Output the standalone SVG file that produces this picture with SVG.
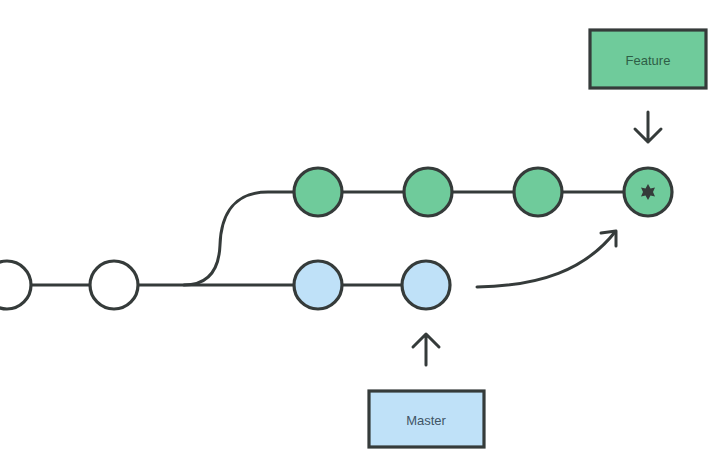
<svg xmlns="http://www.w3.org/2000/svg" width="713" height="453" viewBox="0 0 713 453">
<defs>
<style>
.ln{fill:none;stroke:#353b3a;stroke-width:3;stroke-linecap:round;stroke-linejoin:round}
.c{stroke:#353b3a;stroke-width:3.2}
.w{fill:#ffffff}
.g{fill:#6fcb9b}
.b{fill:#bfe1f8}
.lbl{font-family:"Liberation Sans",Arial,sans-serif;font-size:13px;text-anchor:middle}
</style>
</defs>
<rect width="713" height="453" fill="#ffffff"/>
<g id="connectors">
<path class="ln" d="M7,285 H426"/>
<path class="ln" d="M184,285 C208,285 219,270 220,245 C221,212 236,192 268,192 H648"/>
<path class="ln" d="M477,287 C540,286 585,270 615,232"/>
<path class="ln" d="M601,233 L616,231 L616,246"/>
<path class="ln" d="M648,112 V142 M635,129 L648,142 L661,129"/>
<path class="ln" d="M426,365 V334 M413,347 L426,334 L439,347"/>
</g>
<g id="c1"><circle class="c w" cx="7" cy="285" r="24"/></g>
<g id="c2"><circle class="c w" cx="114" cy="285" r="24"/></g>
<g id="m1"><circle class="c b" cx="318" cy="285" r="24"/></g>
<g id="m2"><circle class="c b" cx="426" cy="285" r="24"/></g>
<g id="f1"><circle class="c g" cx="318" cy="192" r="24"/></g>
<g id="f2"><circle class="c g" cx="428" cy="192" r="24"/></g>
<g id="f3"><circle class="c g" cx="538" cy="192" r="24"/></g>
<g id="f4"><circle class="c g" cx="648" cy="192" r="24"/>
<path d="M648,184 L650.5,188.5 L655,187.5 L653,192 L655,196.5 L650.5,195.5 L648,200 L645.5,195.5 L641,196.5 L643,192 L641,187.5 L645.5,188.5 Z" fill="#353b3a"/></g>
<g id="feature"><rect x="590" y="30" width="116" height="58" class="c g"/><text class="lbl" x="648" y="65" fill="#2e5e46">Feature</text></g>
<g id="master"><rect x="369" y="391" width="115" height="56" class="c b"/><text class="lbl" x="426" y="425" fill="#3f5566">Master</text></g>
</svg>
